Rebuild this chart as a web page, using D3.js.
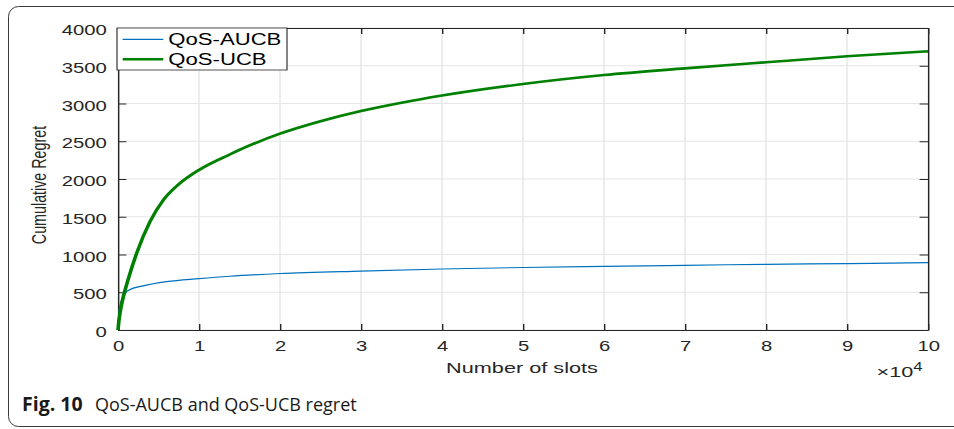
<!DOCTYPE html>
<html>
<head>
<meta charset="utf-8">
<script src="https://cdn.jsdelivr.net/npm/d3@7"></script>
<style>
  html, body { margin: 0; padding: 0; background: #fff; }
  svg { display: block; }
</style>
</head>
<body>
<script>
// ---- data (slots, cumulative regret) ----
const aucbSlots  = [0, 100, 250, 500, 700, 900, 1500, 3100, 6000, 10000, 13800, 20000, 30000, 40000, 50000, 60000, 70000, 80000, 90000, 100000];
const aucbRegret = [0, 180, 310, 410, 455, 490, 537, 585, 640, 680, 712, 748, 781, 808, 828, 843, 857, 870, 880, 892];

const ucbSlots  = [0, 100, 250, 660, 1280, 2300, 3950, 5600, 7500, 10000, 13800, 15000, 20000, 25000, 30000, 35000, 40000, 50000, 60000, 70000, 80000, 90000, 100000];
const ucbRegret = [0, 110, 225, 441, 680, 1016, 1435, 1722, 1930, 2120, 2325, 2385, 2600, 2765, 2900, 3010, 3105, 3258, 3377, 3465, 3546, 3625, 3691];

const seriesNames = ["QoS-AUCB", "QoS-UCB"];
const xTickValues = [0, 10000, 20000, 30000, 40000, 50000, 60000, 70000, 80000, 90000, 100000];
const yTickValues = [0, 500, 1000, 1500, 2000, 2500, 3000, 3500, 4000];
const xLabel = "Number of slots";
const yLabel = "Cumulative Regret";
const captionBold = "Fig. 10";
const captionText = "QoS-AUCB and QoS-UCB regret";

// ---- layout ----
const W = 954, H = 429;
const S = 1.4; // horizontal stretch of the figure
const svg = d3.select("body").append("svg").attr("width", W).attr("height", H);
svg.append("rect").attr("width", W).attr("height", H).attr("fill", "#fff");

// outer frame
svg.append("rect")
  .attr("x", 8.5).attr("y", 6.5).attr("width", 1000).attr("height", 420)
  .attr("rx", 10).attr("ry", 10)
  .attr("fill", "none").attr("stroke", "#3a3a3a").attr("stroke-width", 1);

const g = svg.append("g").attr("transform", `scale(${S},1)`);

const x = d3.scaleLinear().domain([0, 100000]).range([118 / S, 928 / S]);
const y = d3.scaleLinear().domain([0, 4000]).range([330, 28]);

const axisColor = "#262626";
const font = "'Liberation Sans', Arial, Helvetica, sans-serif";

// grid
g.append("g").selectAll("line").data(xTickValues).join("line")
  .attr("x1", d => x(d)).attr("x2", d => x(d))
  .attr("y1", y(0)).attr("y2", y(4000))
  .attr("stroke", "#e6e6e6").attr("stroke-width", 1);
g.append("g").selectAll("line").data(yTickValues).join("line")
  .attr("x1", x(0)).attr("x2", x(100000))
  .attr("y1", d => y(d)).attr("y2", d => y(d))
  .attr("stroke", "#e6e6e6").attr("stroke-width", 1);

// axes
function styleAxis(sel) {
  sel.select(".domain").attr("stroke", axisColor).attr("stroke-width", 1);
  sel.selectAll(".tick line").attr("stroke", axisColor).attr("stroke-width", 1);
  sel.selectAll(".tick text").attr("fill", "#262626").attr("font-family", font).attr("font-size", 14.5);
}
const xAxis = g.append("g").attr("transform", `translate(0,${y(0)})`)
  .call(d3.axisBottom(x).tickValues(xTickValues).tickFormat(d => d / 10000)
    .tickSizeInner(-6).tickSizeOuter(0).tickPadding(11));
styleAxis(xAxis);
const yAxis = g.append("g").attr("transform", `translate(${x(0)},0)`)
  .call(d3.axisLeft(y).tickValues(yTickValues).tickFormat(d3.format("d"))
    .tickSizeInner(-6).tickSizeOuter(0).tickPadding(8));
styleAxis(yAxis);
yAxis.selectAll(".tick text").attr("dy", "0.45em");
const xTop = g.append("g").attr("transform", `translate(0,${y(4000)})`)
  .call(d3.axisTop(x).tickValues(xTickValues).tickFormat("").tickSizeInner(-6).tickSizeOuter(0));
styleAxis(xTop);
const yRight = g.append("g").attr("transform", `translate(${x(100000)},0)`)
  .call(d3.axisRight(y).tickValues(yTickValues).tickFormat("").tickSizeInner(-6).tickSizeOuter(0));
styleAxis(yRight);

// lines
const line = d3.line().x(d => x(d[0])).y(d => y(d[1])).curve(d3.curveMonotoneX);
const aucb = aucbSlots.map((s, i) => [s, aucbRegret[i]]);
const ucb = ucbSlots.map((s, i) => [s, ucbRegret[i]]);
g.append("path").datum(aucb).attr("d", line)
  .attr("fill", "none").attr("stroke", "#0072BD").attr("stroke-width", 1.2);
g.append("path").datum(ucb).attr("d", line)
  .attr("fill", "none").attr("stroke", "#008000").attr("stroke-width", 2.6);

// legend
const leg = g.append("g");
leg.append("rect").attr("x", 117 / S).attr("y", 28).attr("width", (287 - 117) / S).attr("height", 42)
  .attr("fill", "#fff").attr("stroke", axisColor).attr("stroke-width", 0.8);
const legColors = ["#0072BD", "#008000"], legWidths = [1.2, 2.6], legY = [39.3, 59.3];
seriesNames.forEach((name, i) => {
  leg.append("line").attr("x1", 122.7 / S).attr("x2", 163.3 / S).attr("y1", legY[i]).attr("y2", legY[i])
    .attr("stroke", legColors[i]).attr("stroke-width", legWidths[i]);
  leg.append("text").attr("x", 168.3 / S).attr("y", legY[i] + 6.2).text(name)
    .attr("font-family", font).attr("font-size", 15.8).attr("fill", "#000");
});

// axis labels
g.append("text").attr("x", 522 / S).attr("y", 373).attr("text-anchor", "middle")
  .attr("font-family", font).attr("font-size", 15.5).attr("fill", "#262626").text(xLabel);
g.append("text").attr("transform", `translate(${46 / S},185) rotate(-90)`).attr("text-anchor", "middle")
  .attr("font-family", font).attr("font-size", 14.3).attr("fill", "#262626").text(yLabel);
const mult = g.append("text").attr("x", 876.5 / S).attr("y", 377.5)
  .attr("font-family", font).attr("font-size", 15.5).attr("fill", "#262626");
mult.append("tspan").text("\u00D7");
mult.append("tspan").text("10");
mult.append("tspan").attr("dy", -6.5).attr("font-size", 12).text("4");

// caption
const cap = svg.append("text").attr("x", 22).attr("y", 411)
  .attr("font-family", "'Open Sans', 'Noto Sans', sans-serif").attr("fill", "#1a1a1a");
cap.append("tspan").attr("font-weight", "bold").attr("font-size", 19.5).text(captionBold);
cap.append("tspan").attr("x", 95).attr("font-size", 18).text(captionText);
</script>
</body>
</html>
